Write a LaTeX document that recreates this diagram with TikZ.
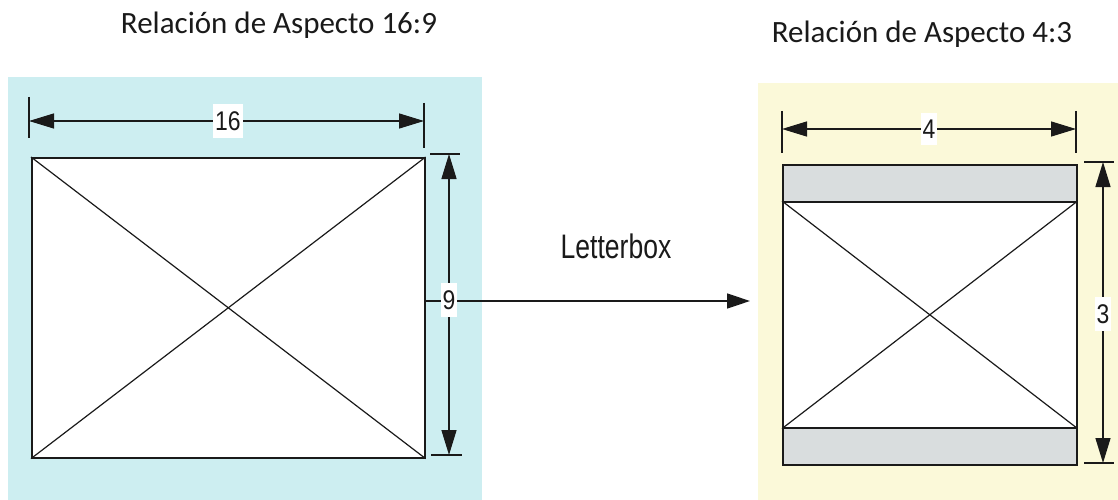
\documentclass[tikz,border=0pt]{standalone}
\usepackage{fontspec}
\setmainfont{Carlito}
\newfontfamily\arialf{Liberation Sans}
\usetikzlibrary{arrows.meta}
\definecolor{cyanbg}{HTML}{CDEEF1}
\definecolor{yellowbg}{HTML}{FBF9D9}
\definecolor{bandgray}{HTML}{D9DDDE}
\definecolor{ink}{HTML}{1A1A1A}
\tikzset{
  tip/.tip={Triangle[length=25pt,width=15pt]},
  dimline/.style={draw=ink, line width=1.4pt, tip-tip},
  extline/.style={draw=ink, line width=1.2pt},
  dimlabel/.style={fill=white, inner xsep=2pt, inner ysep=7pt, text=ink, font=\arialf\fontsize{27}{29}\selectfont},
  frame/.style={draw=ink, line width=1.6pt, inner sep=0pt},
  diag/.style={draw=ink, line width=1.2pt},
  titletext/.style={text=ink, anchor=base, font=\fontsize{31}{36}\selectfont},
}
\begin{document}
\begin{tikzpicture}[x=1pt,y=-1pt]
\useasboundingbox (0,0) rectangle (1118,500);
\fill[white] (0,0) rectangle (1118,500);
% backgrounds
\fill[cyanbg] (8,77) rectangle (482,500);
\fill[yellowbg] (758,83) rectangle (1118,500);
% titles
\node[titletext] (t1) at (279,34) {Relación de Aspecto 16:9};
\node[titletext] (t2) at (922,43) {Relación de Aspecto 4:3};
% left screen
\node[frame, fill=white, minimum width=393pt, minimum height=300pt, anchor=north west] (scrA) at (31,157) {};
\draw[diag] (scrA.north west) -- (scrA.south east);
\draw[diag] (scrA.south west) -- (scrA.north east);
% left horizontal dimension
\coordinate (a1) at (29,121);
\coordinate (a2) at (424,121);
\draw[extline] (29,97) -- (29,138);
\draw[extline] (424,103) -- (424,148);
\draw[dimline] (a1) -- (a2);
\node[dimlabel] (l16) at (228,121) {\scalebox{0.85}[1]{16}};
% left vertical dimension
\coordinate (v1) at (449,154);
\coordinate (v2) at (449,455);
\draw[extline] (430,154) -- (460,154);
\draw[extline] (431,455) -- (462,455);
\draw[dimline] (v1) -- (v2);
% letterbox arrow
\coordinate (arrS) at (scrA.east |- 0,301);
\coordinate (arrE) at (750,301);
\draw[ink, line width=1.4pt, -{Triangle[length=23pt,width=15pt]}] (arrS) -- (arrE);
\node[dimlabel] (l9) at (449,300) {\scalebox{0.85}[1]{9}};
\node[text=ink, anchor=base, font=\arialf\fontsize{34}{40}\selectfont] (lb) at (616,258) {\scalebox{0.78}[1]{Letterbox}};
% right screen
\node[frame, fill=bandgray, minimum width=294pt, minimum height=37pt, anchor=north west] (bandT) at (782,164) {};
\node[frame, fill=white, minimum width=294pt, minimum height=226pt, anchor=north west] (scrB) at (782,201) {};
\node[frame, fill=bandgray, minimum width=294pt, minimum height=37pt, anchor=north west] (bandB) at (782,427) {};
\draw[diag] (scrB.north west) -- (scrB.south east);
\draw[diag] (scrB.south west) -- (scrB.north east);
% right horizontal dimension
\coordinate (b1) at (782,129);
\coordinate (b2) at (1076,129);
\draw[extline] (782,111) -- (782,153);
\draw[extline] (1076,111) -- (1076,153);
\draw[dimline] (b1) -- (b2);
\node[dimlabel] (l4) at (929,129) {\scalebox{0.85}[1]{4}};
% right vertical dimension
\coordinate (w1) at (1103,162);
\coordinate (w2) at (1103,463);
\draw[extline] (1084,162) -- (1114,162);
\draw[extline] (1084,463) -- (1114,463);
\draw[dimline] (w1) -- (w2);
\node[dimlabel] (l3) at (1103,314) {\scalebox{0.85}[1]{3}};
\end{tikzpicture}
\end{document}
